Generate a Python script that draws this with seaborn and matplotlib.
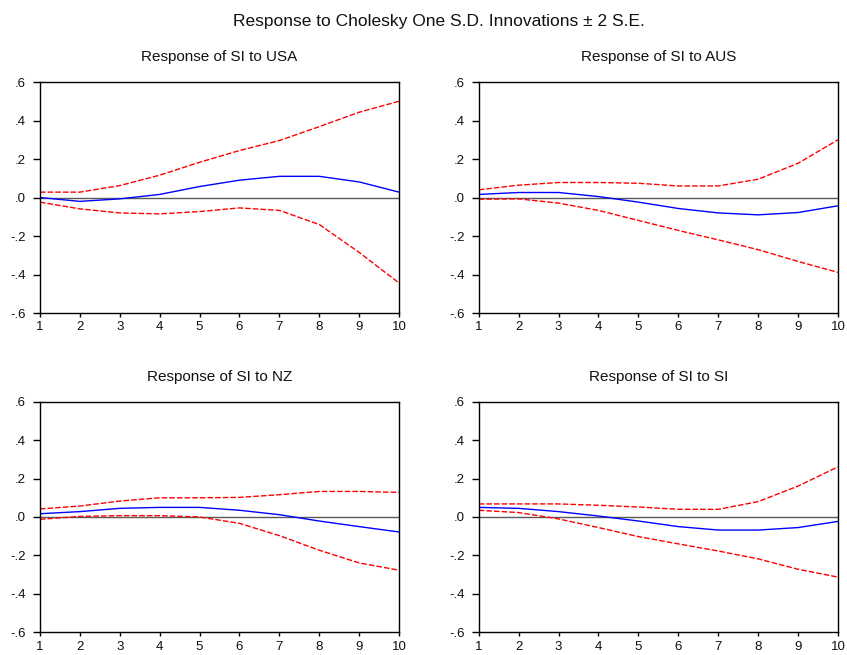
import matplotlib
matplotlib.use("Agg")
import matplotlib.pyplot as plt
import seaborn as sns
import pandas as pd
import numpy as np

sns.set_style("white")
plt.rcParams['font.family'] = ['Liberation Sans', 'DejaVu Sans']

periods = [1, 2, 3, 4, 5, 6, 7, 8, 9, 10]

usa_resp = [0.0, -0.02, -0.007, 0.016, 0.057, 0.09, 0.11, 0.11, 0.081, 0.028]
usa_up = [0.028, 0.028, 0.062, 0.116, 0.183, 0.244, 0.296, 0.368, 0.443, 0.50]
usa_lo = [-0.024, -0.059, -0.08, -0.085, -0.073, -0.054, -0.067, -0.14, -0.285, -0.444]

aus_resp = [0.016, 0.026, 0.026, 0.005, -0.024, -0.057, -0.08, -0.09, -0.078, -0.043]
aus_up = [0.04, 0.064, 0.078, 0.078, 0.074, 0.06, 0.06, 0.095, 0.178, 0.30]
aus_lo = [-0.009, -0.007, -0.029, -0.067, -0.119, -0.171, -0.22, -0.271, -0.332, -0.389]

nz_resp = [0.017, 0.028, 0.045, 0.05, 0.05, 0.035, 0.012, -0.021, -0.05, -0.078]
nz_up = [0.042, 0.057, 0.083, 0.10, 0.10, 0.102, 0.116, 0.133, 0.133, 0.128]
nz_lo = [-0.012, 0.003, 0.007, 0.007, 0.0, -0.033, -0.097, -0.173, -0.239, -0.277]

si_resp = [0.05, 0.045, 0.028, 0.005, -0.021, -0.05, -0.068, -0.068, -0.055, -0.023]
si_up = [0.068, 0.068, 0.068, 0.061, 0.052, 0.04, 0.04, 0.08, 0.161, 0.261]
si_lo = [0.035, 0.023, -0.01, -0.055, -0.102, -0.14, -0.177, -0.218, -0.272, -0.313]

titles = ["Response of SI to USA", "Response of SI to AUS",
          "Response of SI to NZ", "Response of SI to SI"]
series = [(usa_resp, usa_up, usa_lo), (aus_resp, aus_up, aus_lo),
          (nz_resp, nz_up, nz_lo), (si_resp, si_up, si_lo)]

yticks = [-0.6, -0.4, -0.2, 0.0, 0.2, 0.4, 0.6]
ytick_labels = ["-.6", "-.4", "-.2", ".0", ".2", ".4", ".6"]

fig = plt.figure(figsize=(8.47, 6.55), dpi=100)
positions = [
    [0.0472, 0.5221, 0.4239, 0.3527],
    [0.5652, 0.5221, 0.4242, 0.3527],
    [0.0472, 0.0347, 0.4239, 0.3520],
    [0.5652, 0.0347, 0.4242, 0.3520],
]

for pos, title, (resp, up, lo) in zip(positions, titles, series):
    ax = fig.add_axes(pos)
    df = pd.DataFrame({"period": periods, "resp": resp, "up": up, "lo": lo})
    ax.axhline(0, color="#5a5a5a", lw=1.0, zorder=1)
    sns.lineplot(data=df, x="period", y="up", ax=ax, color="red", lw=1.0,
                 linestyle=(0, (4, 1.5)))
    sns.lineplot(data=df, x="period", y="lo", ax=ax, color="red", lw=1.0,
                 linestyle=(0, (4, 1.5)))
    sns.lineplot(data=df, x="period", y="resp", ax=ax, color="blue", lw=1.0)
    ax.set_xlim(1, 10)
    ax.set_ylim(-0.6, 0.6)
    ax.set_xticks(periods)
    ax.set_xticklabels([str(p) for p in periods])
    ax.set_yticks(yticks)
    ax.set_yticklabels(ytick_labels)
    ax.set_xlabel("")
    ax.set_ylabel("")
    for s in ax.spines.values():
        s.set_color("black")
        s.set_linewidth(1.0)
    ax.tick_params(axis="both", direction="out", width=1, color="black",
                   labelsize=9.5, left=True, bottom=True, labelcolor="#111111")
    ax.tick_params(axis="y", length=5, pad=5)
    ax.tick_params(axis="x", length=3, pad=3)
    ax.set_title(title, fontsize=11, pad=15, color="#111111")

fig.text(0.518, 0.967, "Response to Cholesky One S.D. Innovations \u00b1 2 S.E.",
         ha="center", va="center", fontsize=12.5, color="#111111")

fig.savefig("out.png", dpi=100)
